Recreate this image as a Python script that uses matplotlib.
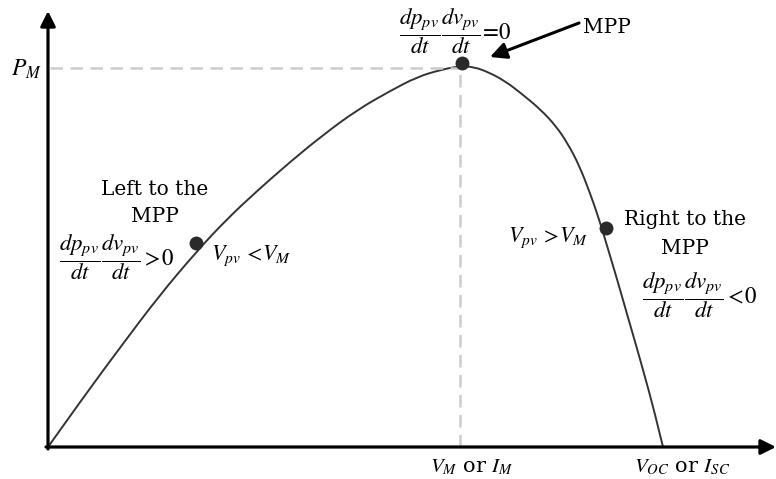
import numpy as np
import matplotlib
matplotlib.use("Agg")
import matplotlib.pyplot as plt
from matplotlib.path import Path
from matplotlib.patches import PathPatch

plt.rcParams["font.family"] = ["DejaVu Serif"]
plt.rcParams["mathtext.fontset"] = "stix"

# P-V curve (arbitrary units, origin at the axes corner)
v_curve = [0, 37, 74, 111, 149, 179, 209, 242, 275, 309, 342, 369, 392, 412,
           426, 440, 457, 474, 492, 508, 520, 531, 542, 551, 560, 569, 579,
           588, 597, 606, 615]
p_curve = [0, 52, 102, 151, 196, 228, 256, 285, 312, 337, 356, 370, 377, 381,
           380, 375, 366, 353, 338, 321, 303, 282, 254, 228, 198, 168, 133,
           102, 70, 37, 0]

# operating points drawn as dots: left of MPP, MPP, right of MPP
dot_v = [148, 414, 558]
dot_p = [204, 384, 219]

v_mpp = 412
p_mpp = 379
v_oc = 615

frac = r"$\dfrac{dp_{pv}}{dt}\dfrac{dv_{pv}}{dt}$"


def smooth_path(xs, ys):
    # quadratic bezier chain: read points act as control points
    pts = np.column_stack([xs, ys]).astype(float)
    verts = [pts[0]]
    codes = [Path.MOVETO]
    for i in range(1, len(pts) - 1):
        mid = (pts[i] + pts[i + 1]) / 2
        if i == len(pts) - 2:
            mid = pts[i + 1]
        verts += [pts[i], mid]
        codes += [Path.CURVE3, Path.CURVE3]
    return Path(verts, codes)


fig = plt.figure(figsize=(7.76, 4.79), dpi=100)
ax = fig.add_axes([0, 0, 1, 1])
ax.set_xlim(-48, 728)
ax.set_ylim(-32, 447)
ax.axis("off")

# axes with arrow heads
axis_style = dict(arrowstyle="-|>,head_length=0.9,head_width=0.45",
                  lw=2.3, color="black", mutation_scale=10,
                  shrinkA=0, shrinkB=0)
ax.annotate("", xy=(0, 436), xytext=(0, -2), arrowprops=axis_style)
ax.annotate("", xy=(728, 0), xytext=(-2, 0), arrowprops=axis_style)

# guides to the MPP
ax.plot([2, v_mpp], [p_mpp, p_mpp], color="#cccccc", lw=1.8, dashes=(5, 3))
ax.plot([v_mpp, v_mpp], [0, p_mpp], color="#cccccc", lw=1.8, dashes=(5, 3))

ax.add_patch(PathPatch(smooth_path(v_curve, p_curve), fill=False,
                       edgecolor="#333333", lw=1.4))
ax.plot(dot_v, dot_p, "o", color="#2a2a2a", ms=10, mec="none")

# MPP arrow
ax.annotate("", xy=(442, 390), xytext=(531, 424),
            arrowprops=dict(arrowstyle="-|>,head_length=1.0,head_width=0.5",
                            lw=2.2, color="black", mutation_scale=10,
                            shrinkA=0, shrinkB=0))
ax.text(559, 420, "MPP", fontsize=14.5, ha="center", va="center")

ax.text(407, 416, frac + r"$\!=\!0$", fontsize=16.5, ha="center", va="center")

# left side
ax.text(107, 258, "Left to the", fontsize=14.5, ha="center", va="center")
ax.text(107, 231, "MPP", fontsize=14.5, ha="center", va="center")
ax.text(69, 190, frac + r"$>\!0$", fontsize=16.5, ha="center", va="center")
ax.text(203, 191, r"$V_{pv}\,<\!V_M$", fontsize=16, ha="center", va="center")

# right side
ax.text(637, 228, "Right to the", fontsize=14.5, ha="center", va="center")
ax.text(637, 199, "MPP", fontsize=14.5, ha="center", va="center")
ax.text(652, 152, frac + r"$<\!0$", fontsize=16.5, ha="center", va="center")
ax.text(500, 209, r"$V_{pv}\,>\!V_M$", fontsize=16, ha="center", va="center")

# axis labels
ax.text(-22, 378, r"$P_M$", fontsize=17, ha="center", va="center")
ax.text(424, -20, r"$V_M$ or $I_M$", fontsize=15, ha="center", va="center")
ax.text(634, -20, r"$V_{OC}$ or $I_{SC}$", fontsize=15, ha="center", va="center")

fig.savefig("out.png", dpi=100)
